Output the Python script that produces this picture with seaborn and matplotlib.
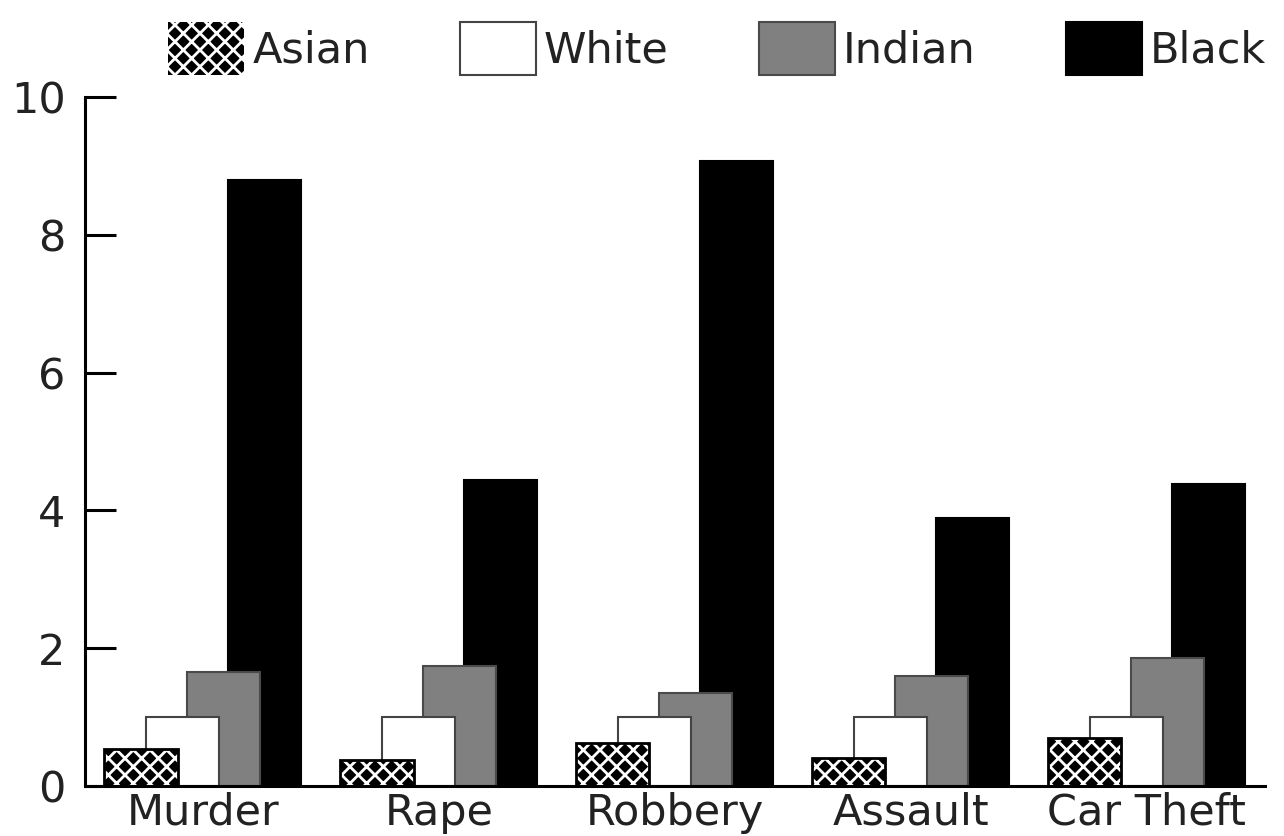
import pandas as pd
import matplotlib
matplotlib.use('Agg')
import matplotlib.pyplot as plt
import seaborn as sns
from matplotlib.patches import Patch, Rectangle

# Data
crimes = ['Murder', 'Rape', 'Robbery', 'Assault', 'Car Theft']
groups = ['Asian', 'White', 'Indian', 'Black']
asian = [0.54, 0.38, 0.62, 0.41, 0.70]
white = [1.0, 1.0, 1.0, 1.0, 1.0]
indian = [1.65, 1.74, 1.35, 1.60, 1.86]
black = [8.80, 4.44, 9.07, 3.89, 4.38]

df = pd.DataFrame({
    'crime': crimes * 4,
    'group': [g for g in groups for _ in crimes],
    'value': asian + white + indian + black,
})

sns.set_style('white')
plt.rcParams['font.family'] = ['DejaVu Sans']
plt.rcParams['hatch.linewidth'] = 2.0

face = {'Asian': 'black', 'White': 'white', 'Indian': '#808080', 'Black': 'black'}
edge = {'Asian': 'black', 'White': '#444444', 'Indian': '#4a4a4a', 'Black': 'black'}
zord = {'Asian': 5, 'White': 4, 'Indian': 3, 'Black': 2}
FS = 31

fig = plt.figure(figsize=(12.84, 8.36), dpi=100)
ax = fig.add_axes([0.0662, 0.0598, 0.9188, 0.8242])

sns.barplot(data=df, x='crime', y='value', hue='group', hue_order=groups,
            order=crimes, palette=face, width=0.70, saturation=1,
            edgecolor='black', linewidth=1.5, legend=False, ax=ax)

# overlapping bars, front-to-back Asian > White > Indian > Black
for g, cont in zip(groups, ax.containers):
    for p in cont:
        c = p.get_x() + p.get_width() / 2
        w = p.get_width() * 1.77
        p.set_x(c - w / 2)
        p.set_width(w)
        p.set_zorder(zord[g])
        p.set_edgecolor(edge[g])
        if g == 'Asian':
            p.set_edgecolor('white')
            p.set_hatch('xx')
            p.set_linewidth(0)
            ax.add_patch(Rectangle(p.get_xy(), w, p.get_height(), fill=False,
                                   edgecolor='black', linewidth=2.0,
                                   zorder=zord[g] + 0.1))

ax.set_xlim(-0.5, 4.5)
ax.set_ylim(0, 10)
ax.set_yticks([0, 2, 4, 6, 8, 10])
ax.set_xlabel('')
ax.set_ylabel('')
sns.despine(ax=ax)
for s in ['left', 'bottom']:
    ax.spines[s].set_linewidth(2.2)
    ax.spines[s].set_color('black')
    ax.spines[s].set_zorder(6)
ax.tick_params(axis='y', left=True, direction='in', length=22, width=2.2,
               labelsize=FS, pad=14, colors='black', labelcolor='#222222')
ax.tick_params(axis='x', bottom=False, length=0, labelsize=FS, pad=4,
               labelcolor='#222222')

# legend above the axes
handles = []
for g in groups:
    if g == 'Asian':
        handles.append(Patch(facecolor='black', edgecolor='white', hatch='xx',
                             linewidth=0, label=g))
    else:
        handles.append(Patch(facecolor=face[g], edgecolor=edge[g],
                             linewidth=1.5, label=g))
fig.legend(handles=handles, loc='center left', bbox_to_anchor=(0.131, 0.942),
           ncol=4, frameon=False, fontsize=FS, borderpad=0, borderaxespad=0,
           handlelength=1.77, handleheight=1.54, handletextpad=0.18,
           columnspacing=2.1, labelcolor='#222222')

fig.savefig('out.png', dpi=100)
